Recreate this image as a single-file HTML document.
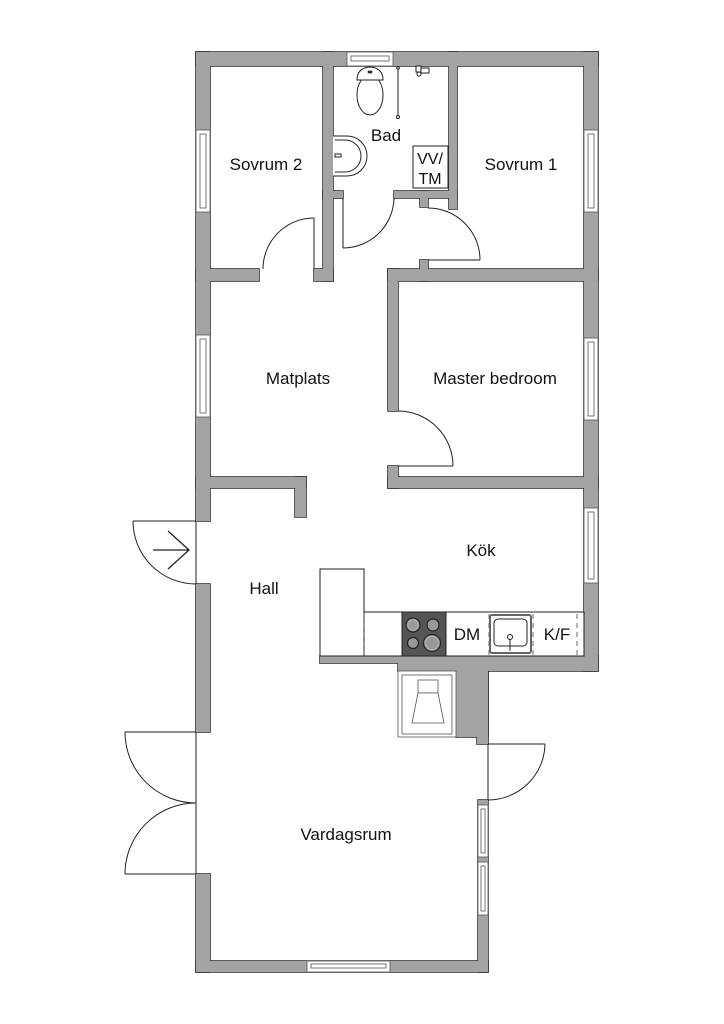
<!DOCTYPE html>
<html><head><meta charset="utf-8"><style>
html,body{margin:0;padding:0;background:#fff;}
svg{display:block;}
text{font-family:"Liberation Sans",sans-serif;font-size:17px;fill:#111;text-anchor:middle;}
</style></head><body>
<svg width="724" height="1024" viewBox="0 0 724 1024" xmlns="http://www.w3.org/2000/svg">
<defs>
<g id="walls">
  <!-- outer top -->
  <rect x="196" y="52" width="402" height="14"/>
  <!-- left outer -->
  <rect x="196" y="52" width="14" height="469"/>
  <rect x="196" y="584" width="14" height="148"/>
  <rect x="196" y="874" width="14" height="98"/>
  <!-- bottom outer -->
  <rect x="196" y="961" width="292" height="11"/>
  <!-- right outer top part -->
  <rect x="584" y="52" width="14" height="619"/>
  <!-- right lower outer -->
  <rect x="478" y="800" width="10" height="172"/>
  <rect x="488" y="656" width="110" height="15"/>
  <rect x="477" y="663" width="11" height="81"/>
  <rect x="456" y="663" width="32" height="74"/>
  <!-- kitchen base -->
  <rect x="320" y="656" width="278" height="7"/>
  <rect x="398" y="656" width="90" height="15"/>
  <!-- Sovrum2 / Bad wall -->
  <rect x="323" y="52" width="10" height="229"/>
  <rect x="314" y="269" width="19" height="12"/>
  <!-- Sovrum2 bottom -->
  <rect x="196" y="269" width="63" height="12"/>
  <!-- Bad bottom -->
  <rect x="323" y="191" width="20" height="7"/>
  <rect x="394" y="191" width="63" height="7"/>
  <rect x="449" y="52" width="8" height="157"/>
  <rect x="420" y="191" width="8" height="16"/>
  <!-- Sovrum1 bottom / master top -->
  <rect x="420" y="260" width="8" height="21"/>
  <rect x="388" y="269" width="210" height="12"/>
  <!-- master left -->
  <rect x="388" y="269" width="10" height="142"/>
  <rect x="388" y="466" width="10" height="22"/>
  <rect x="388" y="477" width="210" height="11"/>
  <!-- matplats/hall -->
  <rect x="196" y="477" width="110" height="11"/>
  <rect x="295" y="477" width="11" height="40"/>
</g>
</defs>
<g fill="#a3a3a3" stroke="#333" stroke-width="1.6"><use href="#walls"/></g>
<g fill="#a3a3a3" stroke="none"><use href="#walls"/></g>

<!-- windows -->
<g fill="#fff" stroke="#555" stroke-width="0.8">
  <rect x="196" y="130" width="14" height="82"/><rect x="200" y="134" width="6" height="74"/>
  <rect x="196" y="335" width="14" height="82"/><rect x="200" y="339" width="6" height="74"/>
  <rect x="584" y="130" width="14" height="82"/><rect x="588" y="134" width="6" height="74"/>
  <rect x="584" y="338" width="14" height="82"/><rect x="588" y="342" width="6" height="74"/>
  <rect x="584" y="508" width="14" height="75"/><rect x="588" y="512" width="6" height="67"/>
  <rect x="478" y="805" width="10" height="52"/><rect x="481" y="809" width="4" height="44"/>
  <rect x="478" y="862" width="10" height="53"/><rect x="481" y="866" width="4" height="45"/>
  <rect x="347" y="52" width="46" height="14"/><rect x="351" y="56" width="38" height="5"/>
  <rect x="307" y="961" width="83" height="11"/><rect x="311" y="964" width="75" height="4"/>
</g>

<!-- doors -->
<g fill="none" stroke="#222" stroke-width="1">
  <!-- sovrum2 -->
  <line x1="314" y1="269" x2="314" y2="218"/>
  <path d="M314 218 A51 51 0 0 0 263 269"/>
  <!-- bad -->
  <line x1="343" y1="198" x2="343" y2="248"/>
  <path d="M343 248 A51 51 0 0 0 394 198"/>
  <!-- sovrum1 -->
  <line x1="428" y1="260" x2="480" y2="260"/>
  <path d="M480 260 A52 52 0 0 0 428 208"/>
  <!-- master -->
  <line x1="398" y1="466" x2="453" y2="466"/>
  <path d="M453 466 A55 55 0 0 0 398 411"/>
  <!-- entrance -->
  <line x1="196" y1="521" x2="196" y2="584"/>
  <line x1="133" y1="521" x2="196" y2="521"/>
  <path d="M133 521 A63 63 0 0 0 196 584"/>
  <line x1="153" y1="550" x2="189" y2="550" stroke-width="1.3"/>
  <polyline points="168,531 189,550 168,569" stroke-width="1.3"/>
  <!-- double doors -->
  <line x1="196" y1="732" x2="196" y2="874"/>
  <line x1="125" y1="732" x2="196" y2="732"/>
  <path d="M125 732 A71 71 0 0 0 196 803"/>
  <line x1="125" y1="874" x2="196" y2="874"/>
  <path d="M125 874 A71 71 0 0 1 196 803"/>
  <!-- right door -->
  <line x1="488" y1="744" x2="488" y2="800"/>
  <line x1="488" y1="744" x2="545" y2="744"/>
  <path d="M545 744 A57 57 0 0 1 488 800"/>
</g>

<!-- bathroom fixtures -->
<g fill="#fff" stroke="#222" stroke-width="1">
  <ellipse cx="370" cy="95" rx="13" ry="20"/>
  <path d="M357 80 Q357 68 370 67 Q383 68 383 80 Z"/>
  <ellipse cx="370" cy="72" rx="2" ry="1" fill="#555"/>
  <line x1="398" y1="67" x2="398" y2="117"/>
  <circle cx="398" cy="68" r="1.3"/><circle cx="398" cy="117" r="1.5"/>
  <path d="M333 136 L347 136 A20 20 0 0 1 347 176 L333 176"/>
  <path d="M335 140 L345 140 A16 16 0 0 1 345 172 L335 172"/>
  <rect x="335" y="154" width="6" height="3"/>
  <rect x="413" y="146" width="35" height="42"/>
  <rect x="416" y="66" width="5" height="6"/><rect x="421" y="68" width="8" height="5"/><circle cx="419" cy="74" r="2"/>
</g>
<text x="386" y="141">Bad</text>
<text x="430" y="164" style="font-size:16px">VV/</text>
<text x="430" y="184" style="font-size:16px">TM</text>

<!-- kitchen -->
<g fill="#fff" stroke="#222" stroke-width="1">
  <rect x="320" y="569" width="44" height="87"/>
  <rect x="364" y="612" width="220" height="44"/>
</g>
<g stroke="#444" stroke-width="0.8" stroke-dasharray="5,4">
  <line x1="364" y1="614" x2="364" y2="655"/>
  <line x1="489" y1="614" x2="489" y2="655"/>
  <line x1="533" y1="614" x2="533" y2="655"/>
  <line x1="577" y1="614" x2="577" y2="655"/>
</g>
<rect x="402" y="612" width="44" height="44" fill="#555" stroke="#222"/>
<g fill="#999" stroke="#222" stroke-width="1.2">
  <circle cx="413" cy="625" r="7"/><circle cx="433" cy="625" r="6"/>
  <circle cx="413" cy="643" r="5.5"/><circle cx="432" cy="643" r="8.5"/>
</g>
<g fill="none" stroke="#bbb" stroke-width="0.7">
  <circle cx="413" cy="625" r="5"/><circle cx="432" cy="643" r="6.5"/>
</g>
<rect x="490" y="615" width="41" height="38" rx="2" fill="#fff" stroke="#666" stroke-width="2"/>
<rect x="494" y="619" width="33" height="27" rx="4" fill="#fff" stroke="#222"/>
<circle cx="510" cy="637" r="2.5" fill="#fff" stroke="#222"/>
<line x1="510" y1="639" x2="510" y2="651" stroke="#222"/>
<text x="467" y="640">DM</text>
<text x="557" y="640">K/F</text>

<!-- fireplace -->
<g fill="#fff" stroke="#555" stroke-width="0.8">
  <rect x="398" y="671" width="58" height="66"/>
  <rect x="402" y="675" width="50" height="59"/>
  <rect x="418" y="680" width="20" height="13"/>
  <polygon points="418,693 438,693 444,723 412,723"/>
</g>

<!-- labels -->
<text x="266" y="170">Sovrum 2</text>
<text x="521" y="170">Sovrum 1</text>
<text x="298" y="384">Matplats</text>
<text x="495" y="384">Master bedroom</text>
<text x="481" y="556">Kök</text>
<text x="264" y="594">Hall</text>
<text x="346" y="840">Vardagsrum</text>
</svg>
</body></html>
